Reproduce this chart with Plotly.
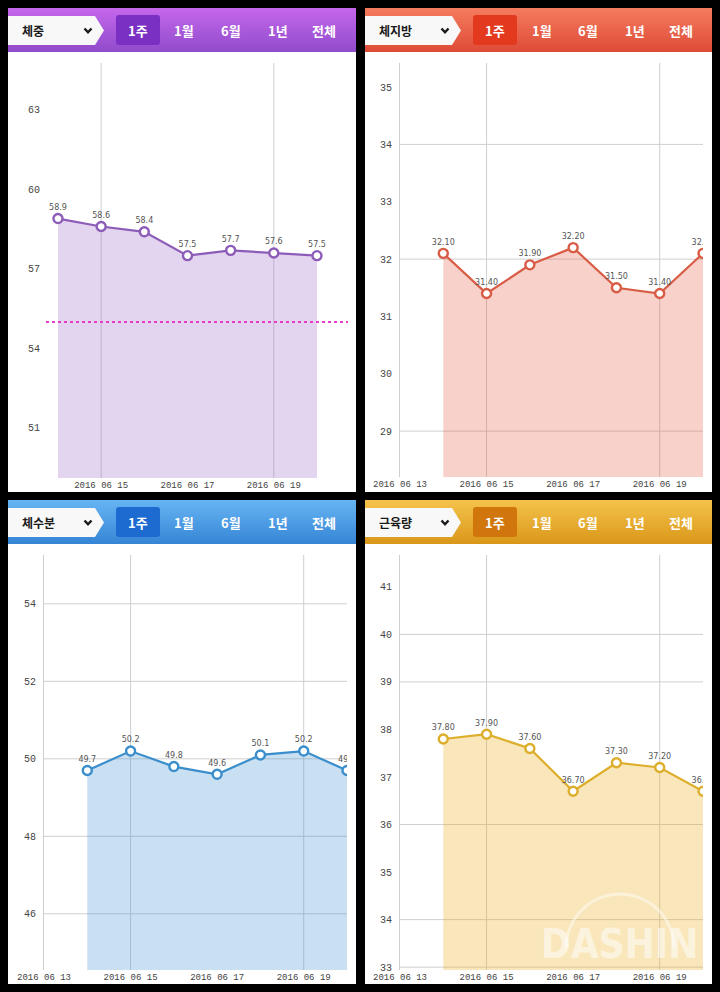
import math
import plotly.graph_objects as go

W, H = 720, 992

# ---------------- data ----------------
dates = ["2016-06-14", "2016-06-15", "2016-06-16", "2016-06-17",
         "2016-06-18", "2016-06-19", "2016-06-20"]
weight = [58.9, 58.6, 58.4, 57.5, 57.7, 57.6, 57.5]
body_fat = [32.10, 31.40, 31.90, 32.20, 31.50, 31.40, 32.10]
body_water = [49.7, 50.2, 49.8, 49.6, 50.1, 50.2, 49.7]
muscle = [37.80, 37.90, 37.60, 36.70, 37.30, 37.20, 36.70]
goal_weight = 55

titles = ["체중", "체지방", "체수분", "근육량"]
period_buttons = ["1주", "1월", "6월", "1년", "전체"]
x_tick_dates = ["2016-06-13", "2016-06-15", "2016-06-17", "2016-06-19"]
x_grid_dates = ["2016-06-15", "2016-06-19"]
y_ticks = [[51, 54, 57, 60, 63],
           [29, 30, 31, 32, 33, 34, 35],
           [46, 48, 50, 52, 54],
           [33, 34, 35, 36, 37, 38, 39, 40, 41]]
y_grid = [[], [29, 32, 34], [46, 48, 50, 52, 54], [33, 34, 36, 39, 40]]
series = [weight, body_fat, body_water, muscle]
label_fmt = ["{:.1f}", "{:.2f}", "{:.1f}", "{:.2f}"]

# ---------------- styles / layout geometry (pixels) ----------------
panels = [
    dict(left=8, right=356, top=8, hb=52, bot=492, plot=(46, 348, 63, 478),
         xr=["2016-06-13 17:20", "2016-06-20 17:15"], yr=[49.11, 64.77], axline=False),
    dict(left=365, right=712, top=8, hb=52, bot=492, plot=(400, 703, 63, 477),
         xr=["2016-06-13", "2016-06-20"], yr=[28.20, 35.42], axline=True),
    dict(left=8, right=356, top=500, hb=544, bot=984, plot=(44, 347, 555, 970),
         xr=["2016-06-13", "2016-06-20"], yr=[44.55, 55.26], axline=True),
    dict(left=365, right=712, top=500, hb=544, bot=984, plot=(400, 703, 555, 970),
         xr=["2016-06-13", "2016-06-20"], yr=[32.94, 41.67], axline=True),
]
hdr_top = ["#c466ea", "#f47a5e", "#66b3f2", "#f4c24a"]
hdr_bot = ["#914ccc", "#de4c36", "#3786d6", "#da981a"]
btn_col = ["#7a30c2", "#e3391e", "#1d6bd0", "#d0760c"]
line_col = ["#8c5cb8", "#d85c46", "#3b8ecc", "#ddae2c"]
fill_col = ["rgba(150,100,200,0.27)", "rgba(230,90,60,0.27)",
            "rgba(60,140,210,0.28)", "rgba(235,175,30,0.30)"]
grid_col = "#cfcfcf"


def px(x):
    return x / W


def py(y):
    return 1 - y / H


def hex2rgb(h):
    h = h.lstrip("#")
    return [int(h[i:i + 2], 16) for i in (0, 2, 4)]


def mix(a, b, t):
    ca, cb = hex2rgb(a), hex2rgb(b)
    return "rgb(%d,%d,%d)" % tuple(round(ca[i] + (cb[i] - ca[i]) * t) for i in range(3))


def rounded_rect(x0, y0, x1, y1, r):
    pts = ["M %f %f" % (px(x0 + r), py(y0)),
           "L %f %f" % (px(x1 - r), py(y0)),
           "Q %f %f %f %f" % (px(x1), py(y0), px(x1), py(y0 + r)),
           "L %f %f" % (px(x1), py(y1 - r)),
           "Q %f %f %f %f" % (px(x1), py(y1), px(x1 - r), py(y1)),
           "L %f %f" % (px(x0 + r), py(y1)),
           "Q %f %f %f %f" % (px(x0), py(y1), px(x0), py(y1 - r)),
           "L %f %f" % (px(x0), py(y0 + r)),
           "Q %f %f %f %f Z" % (px(x0), py(y0), px(x0 + r), py(y0))]
    return " ".join(pts)


fig = go.Figure()
shapes = []
annotations = []
layout_axes = {}

for i, p in enumerate(panels):
    n = "" if i == 0 else str(i + 1)
    xa, ya = "x" + n, "y" + n
    L, R, T, B = p["plot"]

    # white panel
    shapes.append(dict(type="rect", xref="paper", yref="paper", layer="below",
                       x0=px(p["left"]), x1=px(p["right"]), y0=py(p["bot"]), y1=py(p["hb"]),
                       fillcolor="white", line=dict(width=0)))
    # header gradient
    nb = 22
    hh = (p["hb"] - p["top"]) / nb
    for k in range(nb):
        shapes.append(dict(type="rect", xref="paper", yref="paper", layer="below",
                           x0=px(p["left"]), x1=px(p["right"]),
                           y0=py(min(p["hb"], p["top"] + (k + 2) * hh)), y1=py(p["top"] + k * hh),
                           fillcolor=mix(hdr_top[i], hdr_bot[i], k / (nb - 1)),
                           line=dict(width=0)))
    # select box with pointed right side
    l0 = p["left"]
    t0, b0 = p["top"] + 8, p["top"] + 37
    mid = (t0 + b0) / 2
    path = "M %f %f L %f %f L %f %f L %f %f L %f %f Z" % (
        px(l0), py(t0), px(l0 + 87), py(t0), px(l0 + 96), py(mid),
        px(l0 + 87), py(b0), px(l0), py(b0))
    shapes.append(dict(type="path", xref="paper", yref="paper", path=path,
                       fillcolor="#f8f8f8", line=dict(width=0)))
    annotations.append(dict(xref="paper", yref="paper", x=px(l0 + 12), y=py(mid),
                            xanchor="left", yanchor="middle", showarrow=False,
                            text=titles[i],
                            font=dict(family="Noto Sans CJK KR", size=12, color="#1a1a1a",
                                      weight=700)))
    # chevron
    cx = l0 + 80
    chev = "M %f %f L %f %f L %f %f" % (px(cx - 3.5), py(mid - 2), px(cx), py(mid + 1.8),
                                         px(cx + 3.5), py(mid - 2))
    shapes.append(dict(type="path", xref="paper", yref="paper", path=chev,
                       line=dict(color="#1a1a1a", width=2.4)))
    # selected button
    shapes.append(dict(type="path", xref="paper", yref="paper",
                       path=rounded_rect(l0 + 108, p["top"] + 7, l0 + 152, p["top"] + 37, 3),
                       fillcolor=btn_col[i], line=dict(width=0)))
    for j, lab in enumerate(period_buttons):
        annotations.append(dict(xref="paper", yref="paper", x=px(l0 + 130 + j * 46.5),
                                y=py(p["top"] + 22), xanchor="center", yanchor="middle",
                                showarrow=False, text=lab,
                                font=dict(family="Noto Sans CJK KR", size=13, color="white",
                                          weight=700)))

    # gridlines
    for d in x_grid_dates:
        shapes.append(dict(type="line", xref=xa, yref=ya + " domain", layer="below",
                           x0=d, x1=d, y0=0, y1=1, line=dict(color=grid_col, width=1)))
    for v in y_grid[i]:
        shapes.append(dict(type="line", xref=xa + " domain", yref=ya, layer="below",
                           x0=0, x1=1, y0=v, y1=v, line=dict(color=grid_col, width=1)))

    vals = series[i]
    fig.add_trace(go.Scatter(
        x=dates, y=vals, xaxis=xa, yaxis=ya,
        mode="lines+markers+text", fill="tozeroy", fillcolor=fill_col[i],
        line=dict(color=line_col[i], width=2.2),
        marker=dict(size=9, color="white", line=dict(color=line_col[i], width=2.4)),
        text=[label_fmt[i].format(v) for v in vals], textposition="top center",
        textfont=dict(family="DejaVu Sans", size=8, color="#555555"),
        cliponaxis=True, showlegend=False, hoverinfo="skip"))

    layout_axes["xaxis" + n] = dict(
        domain=[px(L), px(R)], range=p["xr"], type="date", anchor=ya, automargin=False,
        tickvals=x_tick_dates, tickformat="%Y %m %d", showgrid=False, zeroline=False,
        ticks="", showline=False,
        tickfont=dict(family="Liberation Mono", size=9, color="#444444"))
    layout_axes["yaxis" + n] = dict(
        domain=[py(B), py(T)], range=p["yr"], anchor=xa, automargin=False,
        tickvals=y_ticks[i], ticktext=[str(v) for v in y_ticks[i]],
        showgrid=False, zeroline=False, ticks="", ticklabelstandoff=5,
        showline=p["axline"], linecolor=grid_col, linewidth=1,
        tickfont=dict(family="Liberation Mono", size=10, color="#444444"))

# goal line in weight chart
shapes.append(dict(type="line", xref="x domain", yref="y", layer="above",
                   x0=0, x1=1, y0=goal_weight, y1=goal_weight,
                   line=dict(color="#e83cc8", width=2, dash="dot")))

# watermark
arc_pts = []
for k in range(25):
    a = math.pi * k / 24
    arc_pts.append((620 - 54 * math.cos(a), 948 - 54 * math.sin(a)))
arc = "M " + " L ".join("%f %f" % (px(x), py(y)) for x, y in arc_pts)
shapes.append(dict(type="path", xref="paper", yref="paper", path=arc, layer="above",
                   line=dict(color="rgba(255,255,255,0.45)", width=3)))
annotations.append(dict(xref="paper", yref="paper", x=px(619), y=py(944),
                        xanchor="center", yanchor="middle", showarrow=False, text="DASHIN",
                        font=dict(family="DejaVu Sans Condensed, Roboto", size=40,
                                  color="rgba(255,255,255,0.55)", weight=700)))

fig.update_layout(
    width=W, height=H, margin=dict(l=0, r=0, t=0, b=0, autoexpand=False),
    paper_bgcolor="black", plot_bgcolor="rgba(0,0,0,0)",
    shapes=shapes, annotations=annotations, showlegend=False,
    **layout_axes)

fig.write_html("out.html")
